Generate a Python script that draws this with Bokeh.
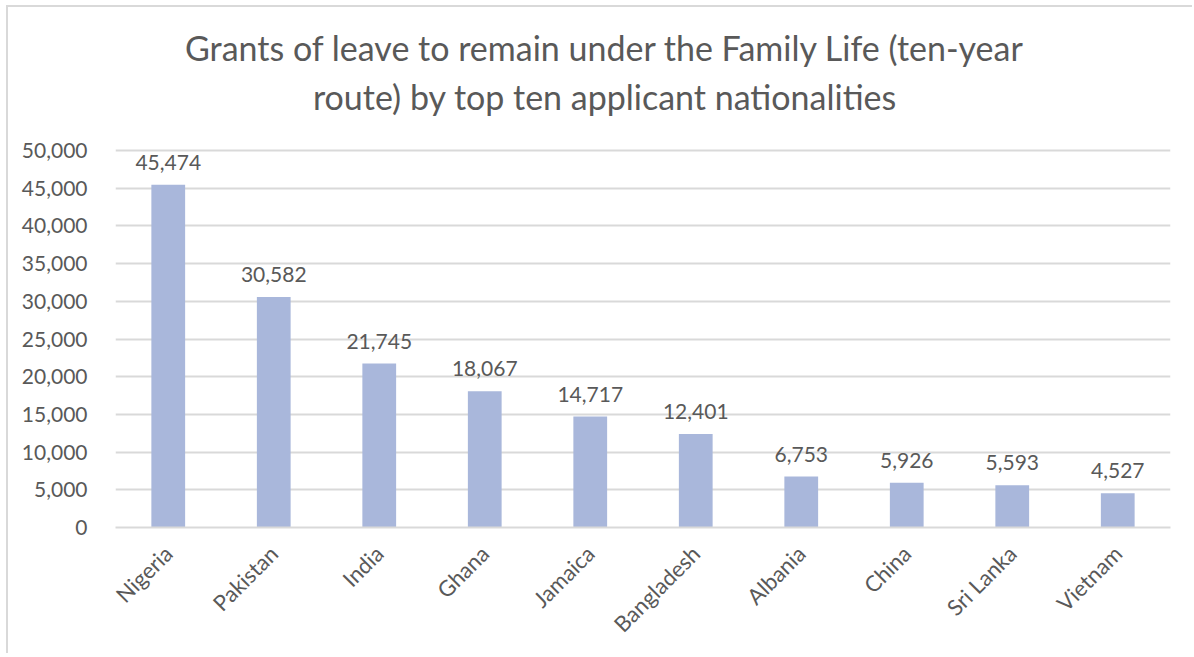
from bokeh.plotting import figure
from bokeh.models import ColumnDataSource, Range1d, NumeralTickFormatter, FixedTicker
from bokeh.core.properties import value
from bokeh.embed import file_html
from bokeh.resources import INLINE
import math

countries = ["Nigeria", "Pakistan", "India", "Ghana", "Jamaica", "Bangladesh",
             "Albania", "China", "Sri Lanka", "Vietnam"]
grants = [45474, 30582, 21745, 18067, 14717, 12401, 6753, 5926, 5593, 4527]
y_ticks = [0, 5000, 10000, 15000, 20000, 25000, 30000, 35000, 40000, 45000, 50000]
title_lines = ["Grants of leave to remain under the Family Life (ten-year",
               "route) by top ten applicant nationalities"]

FONT = "Lato"
TXT = "#595959"
GRID = "#D9D9D9"
BAR = "#A9B7DB"

Y_MAX = 50000
PLOT_H = 377          # pixel height of the 0..50,000 band
TITLE_SPACE = 143     # pixels above the 50,000 gridline reserved for the title
y_end = Y_MAX * (PLOT_H + TITLE_SPACE) / PLOT_H

src = ColumnDataSource(dict(
    country=countries,
    grants=grants,
    label=[f"{v:,}" for v in grants],
))

p = figure(x_range=countries, y_range=Range1d(0, y_end),
           frame_width=1055, frame_height=PLOT_H + TITLE_SPACE,
           output_backend="svg", toolbar_location=None,
           min_border_left=107, min_border_right=22,
           min_border_bottom=126, min_border_top=0)

p.vbar(x="country", top="grants", width=0.32, source=src,
       fill_color=BAR, line_color=None)

p.text(x="country", y="grants", text="label", source=src,
       text_align="center", text_baseline="bottom", y_offset=-15,
       text_font=value(FONT), text_font_size="21px", text_color=TXT)

# chart title: two centred lines above the plotting band
title_src = ColumnDataSource(dict(
    x=[len(countries) / 2] * 2,
    y=[Y_MAX] * 2,
    text=title_lines,
    dy=[-103, -54],
))
p.text(x="x", y="y", text="text", y_offset="dy", x_offset=-38, source=title_src,
       text_align="center", text_baseline="middle",
       text_font=value(FONT), text_font_size="34px", text_color=TXT)

p.outline_line_color = None
p.background_fill_color = "white"
p.border_fill_color = "white"

p.xgrid.grid_line_color = None
p.ygrid.grid_line_color = GRID
p.ygrid.grid_line_width = 2

p.yaxis.ticker = FixedTicker(ticks=y_ticks)
p.yaxis.formatter = NumeralTickFormatter(format="0,0")
p.yaxis.axis_line_color = None
p.yaxis.major_tick_line_color = None
p.yaxis.minor_tick_line_color = None
p.yaxis.major_label_text_font = FONT
p.yaxis.major_label_text_font_size = "21px"
p.yaxis.major_label_text_color = TXT
p.yaxis.major_label_standoff = 22

p.xaxis.axis_line_color = GRID
p.xaxis.axis_line_width = 2
p.xaxis.major_tick_line_color = None
p.xaxis.minor_tick_line_color = None
p.xaxis.major_label_orientation = math.pi / 4
p.xaxis.major_label_text_font = FONT
p.xaxis.major_label_text_font_size = "22px"
p.xaxis.major_label_text_color = TXT
p.xaxis.major_label_standoff = 16

p.styles = {"margin-left": "6px", "margin-top": "5px",
            "border-top": "2px solid #D9D9D9", "border-left": "2px solid #D9D9D9"}

open("out.html", "w").write(file_html(p, INLINE))
